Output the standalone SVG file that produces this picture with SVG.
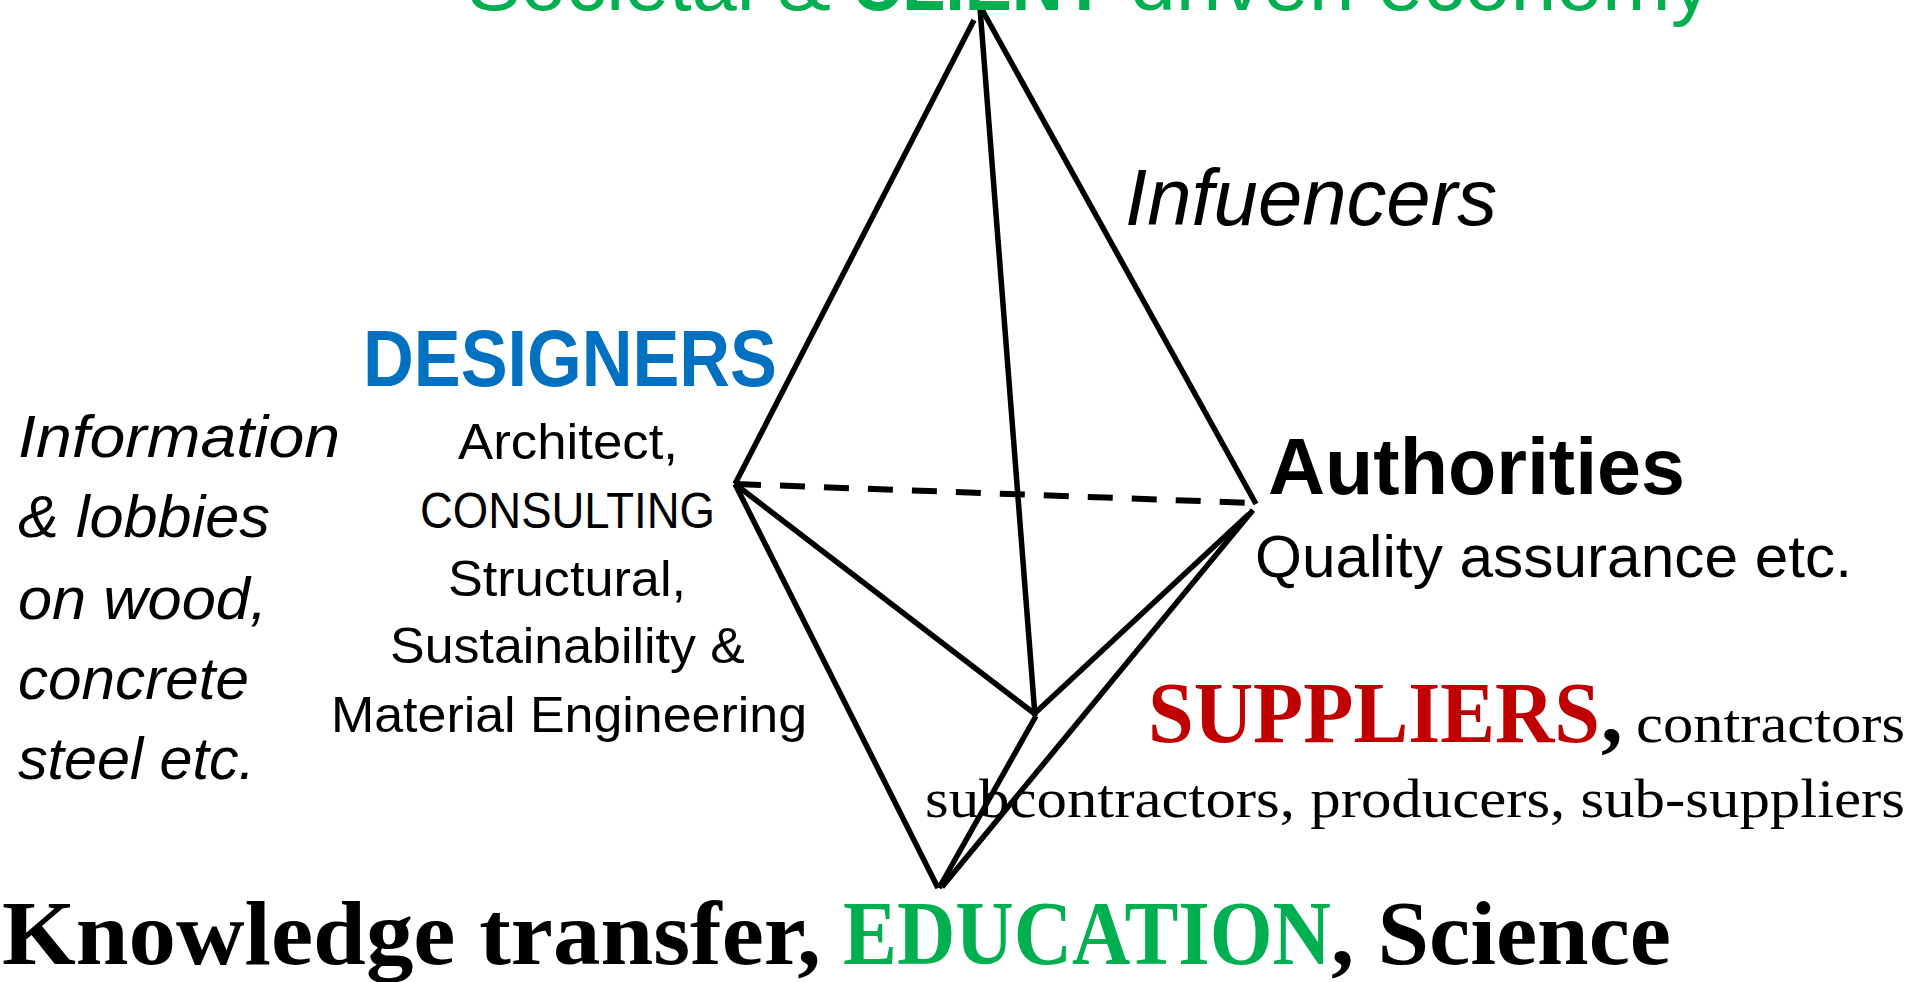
<svg xmlns="http://www.w3.org/2000/svg" width="1930" height="982" viewBox="0 0 1930 982">
<style>
.sans{font-family:"Liberation Sans","Open Sans",Arial,sans-serif}
.serif{font-family:"Liberation Serif","Times New Roman",serif}
.b{font-weight:bold}
.i{font-style:italic}
.edge{stroke:#000;stroke-width:5.5;stroke-linecap:butt;fill:none}
.dash{stroke:#000;stroke-width:6;stroke-dasharray:25 19;fill:none}
.green{fill:#00B050}
.blue{fill:#0070C0}
.red{fill:#C00000}
.blk{fill:#000}
</style>
<rect width="1930" height="982" fill="#fff"/>
<g id="connectors">
<line class="edge" x1="974" y1="20" x2="735" y2="484"/>
<line class="edge" x1="980" y1="6" x2="1256" y2="504"/>
<line class="edge" x1="980" y1="8" x2="1035" y2="716"/>
<line class="dash" x1="736" y1="484" x2="1254" y2="503"/>
<line class="edge" x1="735" y1="484" x2="1035" y2="714"/>
<line class="edge" x1="735" y1="484" x2="938" y2="888"/>
<line class="edge" x1="1249" y1="514" x2="1034" y2="714"/>
<line class="edge" x1="1253" y1="510" x2="942" y2="887"/>
<line class="edge" x1="1036" y1="716" x2="939" y2="888"/>
</g>
<g id="top-economy">
<text class="sans green" x="467" y="10" font-size="80" textLength="364" lengthAdjust="spacingAndGlyphs">Societal &amp;</text>
<text class="sans b green" x="851" y="10" font-size="80" textLength="255" lengthAdjust="spacingAndGlyphs">CLIENT</text>
<text class="sans green" x="1130" y="10" font-size="80" textLength="582" lengthAdjust="spacingAndGlyphs">driven economy</text>
</g>
<g id="influencers">
<text class="sans i blk" x="1125" y="225" font-size="79" textLength="372" lengthAdjust="spacingAndGlyphs">Infuencers</text>
</g>
<g id="designers">
<text class="sans b blue" x="363" y="386" font-size="80" textLength="414" lengthAdjust="spacingAndGlyphs">DESIGNERS</text>
<text class="sans blk" x="458" y="459" font-size="50" textLength="220" lengthAdjust="spacingAndGlyphs">Architect,</text>
<text class="sans blk" x="420" y="528" font-size="50" textLength="295" lengthAdjust="spacingAndGlyphs">CONSULTING</text>
<text class="sans blk" x="448" y="596" font-size="50" textLength="238" lengthAdjust="spacingAndGlyphs">Structural,</text>
<text class="sans blk" x="390" y="663" font-size="50" textLength="355" lengthAdjust="spacingAndGlyphs">Sustainability &amp;</text>
<text class="sans blk" x="331" y="732" font-size="50" textLength="476" lengthAdjust="spacingAndGlyphs">Material Engineering</text>
</g>
<g id="information-lobbies">
<text class="sans i blk" x="18" y="457" font-size="59" textLength="322" lengthAdjust="spacingAndGlyphs">Information</text>
<text class="sans i blk" x="18" y="537" font-size="59" textLength="252" lengthAdjust="spacingAndGlyphs">&amp; lobbies</text>
<text class="sans i blk" x="18" y="619" font-size="59" textLength="249" lengthAdjust="spacingAndGlyphs">on wood,</text>
<text class="sans i blk" x="18" y="699" font-size="59" textLength="231" lengthAdjust="spacingAndGlyphs">concrete</text>
<text class="sans i blk" x="18" y="779" font-size="59" textLength="237" lengthAdjust="spacingAndGlyphs">steel etc.</text>
</g>
<g id="authorities">
<text class="sans b blk" x="1268" y="494" font-size="80" textLength="417" lengthAdjust="spacingAndGlyphs">Authorities</text>
<text class="sans blk" x="1255" y="577" font-size="60" textLength="597" lengthAdjust="spacingAndGlyphs">Quality assurance etc.</text>
</g>
<g id="suppliers">
<text class="serif b red" x="1148" y="742" font-size="87" textLength="452" lengthAdjust="spacingAndGlyphs">SUPPLIERS</text>
<text class="serif b blk" x="1601" y="742" font-size="87">,</text>
<text class="serif blk" x="1636" y="742" font-size="54" textLength="269" lengthAdjust="spacingAndGlyphs">contractors</text>
<text class="serif blk" x="925" y="817" font-size="54" textLength="980" lengthAdjust="spacingAndGlyphs">subcontractors, producers, sub-suppliers</text>
</g>
<g id="education">
<text class="serif b blk" x="2" y="964" font-size="92" textLength="819" lengthAdjust="spacingAndGlyphs">Knowledge transfer,</text>
<text class="serif b green" x="843" y="964" font-size="92" textLength="488" lengthAdjust="spacingAndGlyphs">EDUCATION</text>
<text class="serif b blk" x="1331" y="964" font-size="92" textLength="340" lengthAdjust="spacingAndGlyphs">, Science</text>
</g>
</svg>
